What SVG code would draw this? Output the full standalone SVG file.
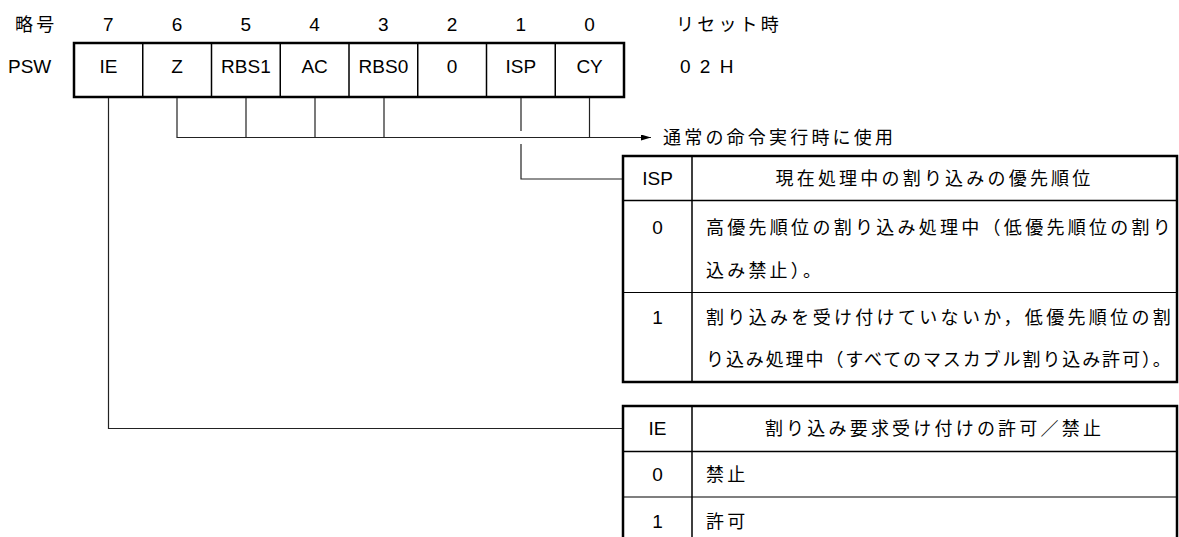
<svg xmlns="http://www.w3.org/2000/svg" width="1179" height="537" viewBox="0 0 1179 537">
<defs>
<style>
.lat{font-family:"Liberation Sans",Arial,sans-serif;font-size:19px;fill:#000}
.jp{font-family:"Noto Sans CJK JP","Noto Sans",sans-serif;font-size:18px;fill:#000;letter-spacing:3.2px}
.c{text-anchor:middle}
.outer{fill:none;stroke:#000;stroke-width:2.5}
.div{stroke:#000;stroke-width:1.5;fill:none}
.thin{stroke:#000;stroke-width:1;fill:none}
.conn{stroke:#222;stroke-width:1.2;fill:none}
</style>
<marker id="arr" viewBox="0 0 10 6" refX="10" refY="3" markerWidth="10" markerHeight="6" markerUnits="userSpaceOnUse" orient="auto">
<path d="M0,0 L10,3 L0,6 Z" fill="#000"/>
</marker>
</defs>
<rect width="1179" height="537" fill="#fff"/>

<g id="header-labels">
<text class="jp" x="15" y="31">略号</text>
<text class="lat c" x="108.4" y="31">7</text>
<text class="lat c" x="177.1" y="31">6</text>
<text class="lat c" x="245.9" y="31">5</text>
<text class="lat c" x="314.6" y="31">4</text>
<text class="lat c" x="383.4" y="31">3</text>
<text class="lat c" x="452.1" y="31">2</text>
<text class="lat c" x="520.9" y="31">1</text>
<text class="lat c" x="589.6" y="31">0</text>
<text class="jp" x="676" y="31">リセット時</text>
<text class="lat" x="8" y="73">PSW</text>
<text class="lat" x="680" y="73" style="letter-spacing:2px">0 2 H</text>
</g>

<g id="psw-register">
<rect class="outer" x="74" y="43" width="550" height="54"/>
<path class="div" d="M142.75,43V97M211.5,43V97M280.25,43V97M349,43V97M417.75,43V97M486.5,43V97M555.25,43V97"/>
<text class="lat c" x="108.4" y="73">IE</text>
<text class="lat c" x="177.1" y="73">Z</text>
<text class="lat c" x="245.9" y="73">RBS1</text>
<text class="lat c" x="314.6" y="73">AC</text>
<text class="lat c" x="383.4" y="73">RBS0</text>
<text class="lat c" x="452.1" y="73">0</text>
<text class="lat c" x="520.9" y="73">ISP</text>
<text class="lat c" x="589.6" y="73">CY</text>
</g>

<g id="connectors">
<path class="conn" d="M108.5,98V428.5H623"/>
<path class="conn" d="M177,98V137.5H651" marker-end="url(#arr)"/>
<path class="conn" d="M246,98V137.5M315,98V137.5M384,98V137.5M589.5,98V137.5"/>
<path class="conn" d="M521,98V131M521,144V179H623"/>
</g>

<g id="normal-use-label">
<text class="jp" x="663" y="144">通常の命令実行時に使用</text>
</g>

<g id="isp-table">
<rect class="outer" x="623" y="156" width="554" height="226"/>
<path class="div" d="M692,156V382M623,200.5H1177"/>
<path class="thin" d="M623,292.5H1177"/>
<text class="lat c" x="657.5" y="185">ISP</text>
<text class="jp c" x="934.5" y="185">現在処理中の割り込みの優先順位</text>
<text class="lat c" x="657.5" y="234">0</text>
<text class="jp" x="706" y="234" textLength="468" lengthAdjust="spacing">高優先順位の割り込み処理中（低優先順位の割り</text>
<text class="jp" x="706" y="277">込み禁止）。</text>
<text class="lat c" x="657.5" y="324">1</text>
<text class="jp" x="706" y="324" textLength="468" lengthAdjust="spacing">割り込みを受け付けていないか，低優先順位の割</text>
<text class="jp" x="706" y="366" textLength="468" lengthAdjust="spacing">り込み処理中（すべてのマスカブル割り込み許可）。</text>
</g>

<g id="ie-table">
<rect class="outer" x="623" y="406" width="554" height="140"/>
<path class="div" d="M692,406V546M623,451.5H1177"/>
<path class="div" d="M623,497H1177" style="stroke-width:1.2"/>
<text class="lat c" x="657.5" y="435">IE</text>
<text class="jp c" x="934.5" y="435">割り込み要求受け付けの許可／禁止</text>
<text class="lat c" x="657.5" y="481">0</text>
<text class="jp" x="706" y="481">禁止</text>
<text class="lat c" x="657.5" y="528">1</text>
<text class="jp" x="706" y="528">許可</text>
</g>
</svg>
